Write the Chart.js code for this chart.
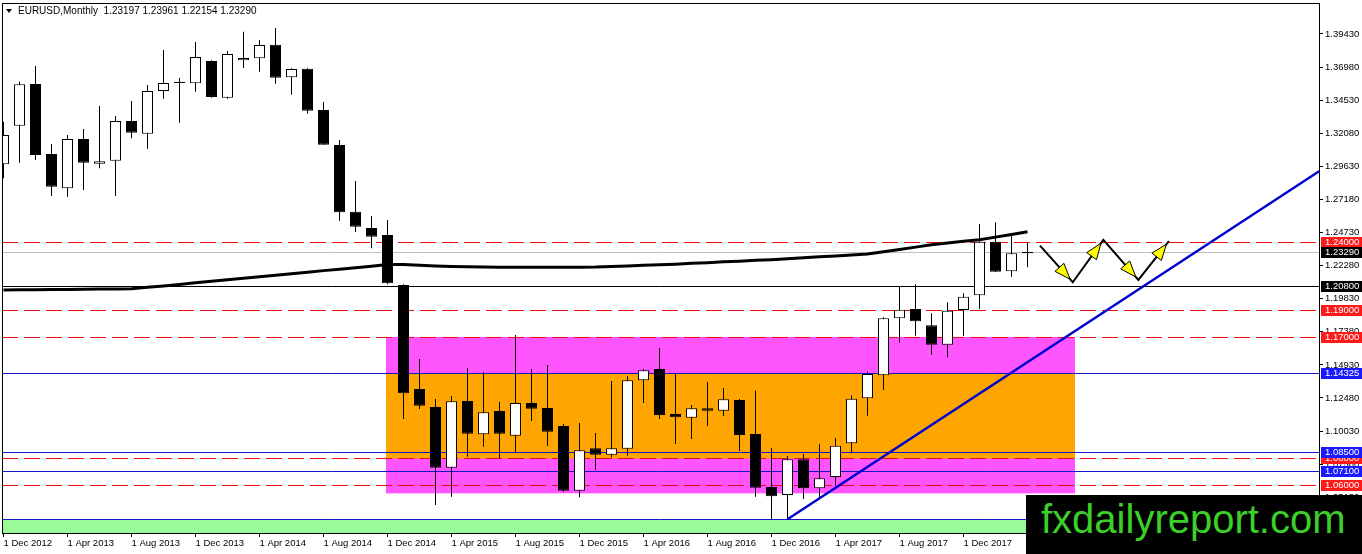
<!DOCTYPE html>
<html>
<head>
<meta charset="utf-8">
<title>EURUSD, Monthly</title>
<script src="https://cdn.jsdelivr.net/npm/chart.js@4.4.1/dist/chart.umd.min.js"></script>
<style>
  html, body { margin: 0; padding: 0; background: #fff; overflow: hidden; }
  #wrap { position: relative; width: 1362px; height: 554px; }
  #chart { position: absolute; left: 0; top: 0; }
  #head { position: absolute; left: 6px; top: 5px; font: 10px "Liberation Sans", Arial, sans-serif; line-height: 12px; color: #000; white-space: pre; }
  #head i { display: inline-block; width: 0; height: 0; border-left: 3px solid transparent; border-right: 3px solid transparent; border-top: 4px solid #000; margin: 0 6px 1px 0; vertical-align: middle; }
  #mark { position: absolute; left: 1026px; top: 495px; width: 321px; height: 59px; padding-left: 15px; background: #000; color: #3ccf2a; font: 40px "Liberation Sans", Arial, sans-serif; line-height: 48px; white-space: nowrap; }
</style>
</head>
<body>
<div id="wrap">
  <canvas id="chart" width="1362" height="554"></canvas>
  <div id="head"><i></i>EURUSD,Monthly  1.23197 1.23961 1.22154 1.23290</div>
  <div id="mark">fxdailyreport.com</div>
</div>
<script>
// ===== DATA =====
const months = [
  "Dec 2012",
  "Jan 2013", "Feb 2013", "Mar 2013", "Apr 2013", "May 2013", "Jun 2013",
  "Jul 2013", "Aug 2013", "Sep 2013", "Oct 2013", "Nov 2013", "Dec 2013",
  "Jan 2014", "Feb 2014", "Mar 2014", "Apr 2014", "May 2014", "Jun 2014",
  "Jul 2014", "Aug 2014", "Sep 2014", "Oct 2014", "Nov 2014", "Dec 2014",
  "Jan 2015", "Feb 2015", "Mar 2015", "Apr 2015", "May 2015", "Jun 2015",
  "Jul 2015", "Aug 2015", "Sep 2015", "Oct 2015", "Nov 2015", "Dec 2015",
  "Jan 2016", "Feb 2016", "Mar 2016", "Apr 2016", "May 2016", "Jun 2016",
  "Jul 2016", "Aug 2016", "Sep 2016", "Oct 2016", "Nov 2016", "Dec 2016",
  "Jan 2017", "Feb 2017", "Mar 2017", "Apr 2017", "May 2017", "Jun 2017",
  "Jul 2017", "Aug 2017", "Sep 2017", "Oct 2017", "Nov 2017", "Dec 2017",
  "Jan 2018", "Feb 2018", "Mar 2018", "Apr 2018"
];

const open = [
  1.2978,
  1.3264, 1.3573, 1.3055, 1.2801, 1.3166, 1.2983, 1.3005, 1.3299, 1.3205, 1.3521, 1.3590, 1.3578,
  1.3743, 1.3471, 1.3748, 1.3763, 1.3864, 1.3622, 1.3686, 1.3380, 1.3121, 1.2627, 1.2507, 1.2455,
  1.2085, 1.1315, 1.1181, 1.0732, 1.1226, 1.0979, 1.1152, 1.0969, 1.1211, 1.1174, 1.1041, 1.0562,
  1.0876, 1.0828, 1.0873, 1.1379, 1.1463, 1.1129, 1.1102, 1.1172, 1.1154, 1.1233, 1.0981, 1.0589,
  1.0530, 1.0794, 1.0579, 1.0663, 1.0913, 1.1246, 1.1416, 1.1838, 1.1907, 1.1786, 1.1643, 1.1900,
  1.2008, 1.2405, 1.2186, 1.23197
];
const high = [
  1.3294,
  1.3590, 1.3706, 1.3129, 1.3195, 1.3240, 1.3410, 1.3336, 1.3447, 1.3565, 1.3825, 1.3617, 1.3884,
  1.3748, 1.3817, 1.3960, 1.3899, 1.3987, 1.3689, 1.3690, 1.3440, 1.3158, 1.2855, 1.2596, 1.2566,
  1.2090, 1.1537, 1.1241, 1.1263, 1.1470, 1.1440, 1.1221, 1.1714, 1.1463, 1.1492, 1.1055, 1.1063,
  1.0989, 1.1374, 1.1411, 1.1463, 1.1618, 1.1426, 1.1196, 1.1366, 1.1322, 1.1240, 1.1302, 1.0878,
  1.0819, 1.0833, 1.0905, 1.0952, 1.1268, 1.1443, 1.1846, 1.2072, 1.2090, 1.1875, 1.1957, 1.2023,
  1.2536, 1.2549, 1.2457, 1.23961
];
const low = [
  1.2875,
  1.2990, 1.3010, 1.2744, 1.2738, 1.2788, 1.2949, 1.2744, 1.3171, 1.3094, 1.3464, 1.3286, 1.3516,
  1.3471, 1.3464, 1.3691, 1.3664, 1.3575, 1.3494, 1.3353, 1.3123, 1.2561, 1.2477, 1.2356, 1.2090,
  1.1092, 1.1167, 1.0456, 1.0517, 1.0813, 1.0887, 1.0801, 1.0846, 1.1078, 1.0893, 1.0554, 1.0513,
  1.0715, 1.0809, 1.0821, 1.1211, 1.1092, 1.0907, 1.0944, 1.1041, 1.1115, 1.0856, 1.0517, 1.0348,
  1.0350, 1.0500, 1.0510, 1.0599, 1.0838, 1.1117, 1.1307, 1.1657, 1.1709, 1.1569, 1.1549, 1.1707,
  1.1909, 1.2180, 1.2146, 1.22154
];
const close = [
  1.3195,
  1.3571, 1.3047, 1.2812, 1.3166, 1.2990, 1.3000, 1.3299, 1.3212, 1.3521, 1.3580, 1.3580, 1.3773,
  1.3477, 1.3795, 1.3765, 1.3862, 1.3619, 1.3684, 1.3375, 1.3123, 1.2623, 1.2516, 1.2442, 1.2097,
  1.1283, 1.1191, 1.0732, 1.1224, 1.0984, 1.1142, 1.0984, 1.1211, 1.1169, 1.0998, 1.0562, 1.0861,
  1.0828, 1.0876, 1.1379, 1.1453, 1.1122, 1.1105, 1.1172, 1.1154, 1.1238, 1.0974, 1.0584, 1.0520,
  1.0794, 1.0579, 1.0653, 1.0895, 1.1243, 1.1426, 1.1838, 1.1902, 1.1816, 1.1643, 1.1894, 1.1998,
  1.2405, 1.2183, 1.2319, 1.23290
];

// long moving average (thick black line)
const ma = [
  1.2048,
  1.2049, 1.2050, 1.2051, 1.2052, 1.2053, 1.2054, 1.2055, 1.2056, 1.2067, 1.2078, 1.2089, 1.2101,
  1.2112, 1.2123, 1.2134, 1.2146, 1.2157, 1.2168, 1.2179, 1.2191, 1.2202, 1.2213, 1.2224, 1.2236,
  1.2236, 1.2231, 1.2226, 1.2222, 1.2219, 1.2217, 1.2216, 1.2216, 1.2216, 1.2216, 1.2216, 1.2216,
  1.2217, 1.2221, 1.2226, 1.2231, 1.2235, 1.2239, 1.2245, 1.2250, 1.2256, 1.2261, 1.2267, 1.2272,
  1.2279, 1.2286, 1.2293, 1.2300, 1.2307, 1.2314, 1.2331, 1.2348, 1.2365, 1.2382, 1.2395, 1.2408,
  1.2420, 1.2439, 1.2459, 1.2479
];

// x axis labels (every 4th month)
const xTickIdx    = [0, 4, 8, 12, 16, 20, 24, 28, 32, 36, 40, 44, 48, 52, 56, 60];
const xTickLabels = [
  "1 Dec 2012", "1 Apr 2013", "1 Aug 2013", "1 Dec 2013", "1 Apr 2014", "1 Aug 2014",
  "1 Dec 2014", "1 Apr 2015", "1 Aug 2015", "1 Dec 2015", "1 Apr 2016", "1 Aug 2016",
  "1 Dec 2016", "1 Apr 2017", "1 Aug 2017", "1 Dec 2017"
];

// price axis labels
const yTicks = [
  1.39430, 1.36980, 1.34530, 1.32080, 1.29630, 1.27180, 1.24730, 1.22280,
  1.19830, 1.17380, 1.14930, 1.12480, 1.10030, 1.07580, 1.05130
];

// levels drawn on the chart
const redLevels    = [1.24000, 1.19000, 1.17000, 1.08000, 1.06000];
const blueLevels   = [1.14325, 1.08500, 1.07100];
const supportLevel = 1.20800;
const lastPrice    = 1.23290;
const floorLevel   = 1.03500;

// range boxes (month index span, price top/bottom)
const zoneSpan  = [23.906, 66.97];
const outerZone = [1.17000, 1.05420];
const innerZone = [1.14325, 1.08000];

// rising trend line from the Jan 2017 low
const trendX = [49, 82.25];
const trendY = [1.0350, 1.2929];

// projected zig-zag path
const pathX = [64.78, 66.83, 68.74, 70.93, 72.84];
const pathY = [1.2376, 1.2105, 1.2418, 1.2122, 1.2410];

// ===== BUILD DATASETS =====
const idx = months.map((m, i) => i);
const bodies = idx.map(i => ({ x: i, y: [open[i], close[i]] }));
const wicks  = idx.map(i => ({ x: i, y: [low[i], high[i]] }));
const bodyFill = idx.map(i => close[i] >= open[i] ? "#ffffff" : "#000000");

const FONT = '"Liberation Sans", Arial, sans-serif';
Chart.defaults.font.family = FONT;
Chart.defaults.color = "#000";

// ===== DRAWING HELPERS (boxes, levels, arrowheads, price tags) =====
const overlay = {
  id: "overlay",
  beforeDatasetsDraw(chart) {
    const { ctx, chartArea: a, scales: { x, y } } = chart;
    const w = a.right - a.left;
    ctx.save();
    ctx.beginPath();
    ctx.rect(a.left, a.top, w, a.bottom - a.top);
    ctx.clip();

    const fy = y.getPixelForValue(floorLevel);
    ctx.fillStyle = "#98fb98";
    ctx.fillRect(a.left, fy, w, a.bottom - fy);

    const zx0 = x.getPixelForValue(zoneSpan[0]);
    const zx1 = x.getPixelForValue(zoneSpan[1]);
    const box = (z, col) => {
      const t = y.getPixelForValue(z[0]), b = y.getPixelForValue(z[1]);
      ctx.fillStyle = col;
      ctx.fillRect(zx0, t, zx1 - zx0, b - t);
    };
    box(outerZone, "#ff55ff");
    box(innerZone, "#ffa500");

    const hline = (p, col, dash) => {
      const py = Math.round(y.getPixelForValue(p)) + 0.5;
      ctx.strokeStyle = col;
      ctx.lineWidth = 1;
      ctx.setLineDash(dash);
      ctx.beginPath();
      ctx.moveTo(a.left, py);
      ctx.lineTo(a.right, py);
      ctx.stroke();
    };
    hline(floorLevel, "#1414c8", []);
    hline(lastPrice, "#c0c0c0", []);
    hline(supportLevel, "#000000", []);
    blueLevels.forEach(p => hline(p, "#1414c8", []));
    redLevels.forEach(p => hline(p, "#e81010", [16, 6]));
    ctx.restore();
  },

  afterDatasetsDraw(chart) {
    const { ctx, chartArea: a } = chart;
    const meta = chart.getDatasetMeta(chart.data.datasets.findIndex(d => d.label === "path"));
    const pts = meta.data;

    ctx.save();
    ctx.fillStyle = "#ffff00";
    ctx.strokeStyle = "#000";
    ctx.lineWidth = 1;
    for (let k = 1; k < pts.length; k++) {
      const p0 = pts[k - 1], p1 = pts[k];
      const dx = p1.x - p0.x, dy = p1.y - p0.y;
      const len = Math.hypot(dx, dy);
      const ux = dx / len, uy = dy / len;
      const tx = p1.x - ux * 4, ty = p1.y - uy * 4;
      const bx = tx - ux * 16, by = ty - uy * 16;
      ctx.beginPath();
      ctx.moveTo(tx, ty);
      ctx.lineTo(bx - uy * 6, by + ux * 6);
      ctx.lineTo(bx + uy * 6, by - ux * 6);
      ctx.closePath();
      ctx.fill();
      ctx.stroke();
    }

    // chart frame
    ctx.strokeRect(a.left + 0.5, a.top + 0.5, a.right - a.left, a.bottom - a.top);
    ctx.restore();
  },

  afterDraw(chart) {
    const { ctx, chartArea: a, scales: { y } } = chart;
    const tag = (p, bg) => {
      const py = Math.round(y.getPixelForValue(p));
      ctx.fillStyle = bg;
      ctx.fillRect(a.right + 2, py - 5, chart.width - a.right - 2, 11);
      ctx.fillStyle = "#fff";
      ctx.font = "9.5px " + FONT;
      ctx.textBaseline = "middle";
      ctx.textAlign = "left";
      ctx.fillText(p.toFixed(5), a.right + 6, py + 0.5);
    };
    ctx.save();
    redLevels.forEach(p => tag(p, "#ff1a1a"));
    blueLevels.forEach(p => tag(p, "#1a1aff"));
    tag(supportLevel, "#000");
    tag(lastPrice, "#000");
    ctx.restore();
  }
};

// ===== CHART =====
new Chart(document.getElementById("chart"), {
  type: "bar",
  data: {
    datasets: [
      {
        type: "line", label: "ma", data: ma.map((v, i) => ({ x: i, y: v })),
        borderColor: "#000", borderWidth: 3, pointRadius: 0, tension: 0, clip: 0, order: 0
      },
      {
        type: "line", label: "trend", data: trendX.map((v, k) => ({ x: v, y: trendY[k] })),
        borderColor: "#0000d0", borderWidth: 2.5, pointRadius: 0, clip: 0, order: 0
      },
      {
        type: "line", label: "path", data: pathX.map((v, k) => ({ x: v, y: pathY[k] })),
        borderColor: "#000", borderWidth: 2, pointRadius: 0, clip: 0, order: 0
      },
      {
        label: "wick", data: wicks, backgroundColor: "#000",
        barThickness: 1, grouped: false, inflateAmount: 0, clip: 0, order: 2
      },
      {
        label: "body", data: bodies, backgroundColor: bodyFill, borderColor: "#000",
        borderWidth: 1, borderSkipped: false, barThickness: 11, grouped: false,
        inflateAmount: 0, clip: 0, order: 1
      }
    ]
  },
  options: {
    responsive: false,
    animation: false,
    events: [],
    layout: { padding: { left: 2, top: 3, right: 0, bottom: 0 } },
    plugins: { legend: { display: false }, tooltip: { enabled: false } },
    scales: {
      x: {
        type: "linear",
        min: -0.09375,
        max: 82.21875,
        offset: false,
        afterBuildTicks: s => { s.ticks = xTickIdx.map(v => ({ value: v })); },
        afterFit: s => { s.height = 21; s.paddingLeft = 0; s.paddingRight = 0; },
        ticks: {
          align: "start", maxRotation: 0, minRotation: 0, autoSkip: false, padding: 1,
          font: { size: 9.5 }, color: "#000",
          callback: (v, i) => xTickLabels[i]
        },
        grid: { drawOnChartArea: false, offset: false, tickLength: 4, color: "#000" },
        border: { display: false }
      },
      y: {
        type: "linear",
        position: "right",
        min: 1.02483,
        max: 1.41725,
        afterBuildTicks: s => { s.ticks = yTicks.map(v => ({ value: v })); },
        afterFit: s => { s.width = 43; s.paddingTop = 0; s.paddingBottom = 0; },
        ticks: {
          padding: 2, font: { size: 9.5 }, color: "#000",
          callback: v => v.toFixed(5)
        },
        grid: { drawOnChartArea: false, tickLength: 4, color: "#000" },
        border: { display: false }
      }
    }
  },
  plugins: [overlay]
});
</script>
</body>
</html>
